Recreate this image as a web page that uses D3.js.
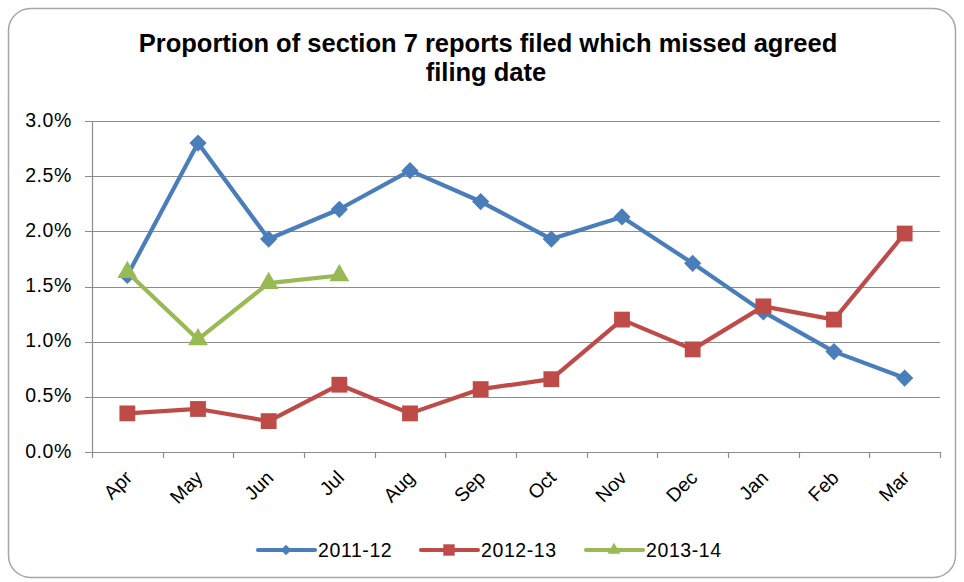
<!DOCTYPE html>
<html><head><meta charset="utf-8">
<script src="https://cdn.jsdelivr.net/npm/d3@7"></script>
<style>body{margin:0;background:#fff}svg{display:block}</style>
</head><body>
<script>
const months = ["Apr","May","Jun","Jul","Aug","Sep","Oct","Nov","Dec","Jan","Feb","Mar"];
const s2011 = [1.60,2.80,1.93,2.20,2.55,2.27,1.93,2.13,1.71,1.27,0.91,0.67];
const s2012 = [0.35,0.39,0.28,0.61,0.35,0.57,0.66,1.20,0.93,1.32,1.20,1.98];
const s2013 = [1.63,1.02,1.53,1.60];
const yTicks = [0,0.5,1.0,1.5,2.0,2.5,3.0];
const seriesNames = ["2011-12","2012-13","2013-14"];
const colors = ["#4a7ebb","#be4b48","#98b954"];
const shapes = [d3.symbolDiamond2, d3.symbolSquare, d3.symbolTriangle];

const W=964,H=582;
const svg=d3.select("body").append("svg").attr("width",W).attr("height",H);
svg.append("rect").attr("x",8.5).attr("y",8.5).attr("width",947).attr("height",569)
  .attr("rx",22).attr("fill","#fff").attr("stroke","#a6a6a6").attr("stroke-width",1.5);

const font="Liberation Sans, Arial, sans-serif";
const title=svg.append("text").attr("text-anchor","middle").attr("font-family",font)
  .attr("font-weight","bold").attr("font-size",25.5).attr("fill","#000");
title.append("tspan").attr("x",488).attr("y",52).text("Proportion of section 7 reports filed which missed agreed");
title.append("tspan").attr("x",486).attr("y",81).text("filing date");

const L=92,R=940,T=121,B=452;
const x=d3.scaleBand().domain(months).range([L,R]);
const y=d3.scaleLinear().domain([0,3]).range([B,T]);

const g=svg.append("g");
g.selectAll("line.grid").data(yTicks).join("line")
  .attr("x1",L-7).attr("x2",R).attr("y1",d=>Math.round(y(d))+0.5).attr("y2",d=>Math.round(y(d))+0.5)
  .attr("stroke","#8c8c8c").attr("stroke-width",1.2);
g.append("line").attr("x1",L+0.5).attr("x2",L+0.5).attr("y1",T).attr("y2",B+1).attr("stroke","#8c8c8c").attr("stroke-width",1.2);
g.selectAll("text.yl").data(yTicks).join("text")
  .attr("x",72).attr("y",d=>y(d)+5.5).attr("text-anchor","end")
  .attr("font-family",font).attr("font-size",19.5).attr("letter-spacing",0.6).attr("fill","#000")
  .text(d=>d3.format(".1f")(d)+"%");
const xt=months.map((m,i)=>L+i*x.bandwidth()).concat([R]);
g.selectAll("line.xt").data(xt).join("line")
  .attr("x1",d=>Math.round(d)+0.5).attr("x2",d=>Math.round(d)+0.5).attr("y1",B).attr("y2",B+6)
  .attr("stroke","#8c8c8c").attr("stroke-width",1.2);
g.selectAll("text.xl").data(months).join("text")
  .attr("transform",d=>`translate(${x(d)+x.bandwidth()/2+6},${B+27}) rotate(-45)`)
  .attr("text-anchor","end").attr("font-family",font).attr("font-size",19.5).attr("fill","#000")
  .text(d=>d);

const cx=d=>x(d)+x.bandwidth()/2;
const line=d3.line().x((d,i)=>cx(months[i])).y(d=>y(d));
const allSeries=[s2011,s2012,s2013];
const sizes=[190,250,170];
allSeries.forEach((s,k)=>{
  g.append("path").datum(s).attr("d",line).attr("fill","none").attr("stroke",colors[k])
   .attr("stroke-width",4.2).attr("stroke-linejoin","round").attr("stroke-linecap","round");
  g.selectAll(null).data(s).join("path")
   .attr("transform",(d,i)=>`translate(${cx(months[i])},${y(d)})`)
   .attr("d",d3.symbol().type(shapes[k]).size(sizes[k])).attr("fill",colors[k]);
});

const legX=[258,421,586];
seriesNames.forEach((n,k)=>{
  const lg=svg.append("g");
  lg.append("line").attr("x1",legX[k]).attr("x2",legX[k]+57).attr("y1",550).attr("y2",550)
    .attr("stroke",colors[k]).attr("stroke-width",4.2).attr("stroke-linecap","round");
  lg.append("path").attr("transform",`translate(${legX[k]+28},550)`)
    .attr("d",d3.symbol().type(shapes[k]).size(k===1?130:70)).attr("fill",colors[k]);
  lg.append("text").attr("x",legX[k]+60).attr("y",557).attr("font-family",font)
    .attr("font-size",19.5).attr("letter-spacing",0.6).attr("fill","#000").text(n);
});
</script>
</body></html>
